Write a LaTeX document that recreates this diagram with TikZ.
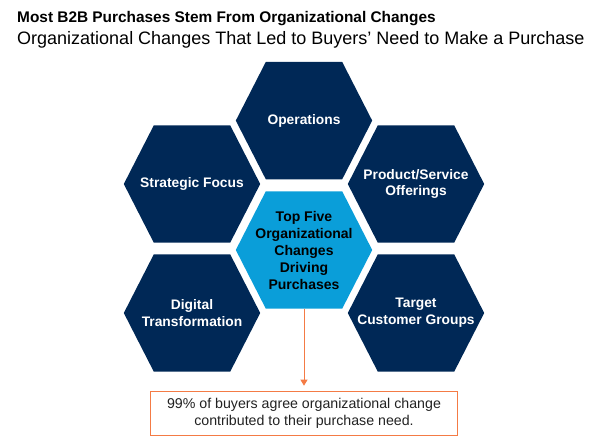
\documentclass[tikz,border=0pt]{standalone}
\usepackage{fontspec}
\setmainfont{Liberation Sans}
\usetikzlibrary{positioning, calc, backgrounds, arrows.meta}
\definecolor{navy}{HTML}{002856}
\definecolor{skyblue}{HTML}{0A9ED9}
\definecolor{rust}{HTML}{F47B45}
\definecolor{ink}{HTML}{222222}
\tikzset{
	hexcell/.style={minimum width=136pt, minimum height=117pt, inner sep=0pt, align=center, text=white, font=\fontsize{13.8}{16.8}\selectfont\bfseries},
	hexcore/.style={hexcell, text=black, font=\fontsize{14}{17}\selectfont\bfseries},
	notebox/.style={draw=rust, line width=1.3pt, minimum width=307pt, minimum height=44pt, align=center, text=ink, font=\fontsize{14.2}{17}\selectfont},
	title/.style={anchor=base west, inner sep=0pt, font=\fontsize{15.4}{18}\selectfont\bfseries},
	subtitle/.style={anchor=base west, inner sep=0pt, font=\fontsize{18}{21}\selectfont}
}
\newcommand{\hexfill}[2]{%
	\fill[#2] (#1.west) -- ($(#1.north west)!0.22!(#1.north east)$) -- ($(#1.north west)!0.78!(#1.north east)$) -- (#1.east) -- ($(#1.south west)!0.78!(#1.south east)$) -- ($(#1.south west)!0.22!(#1.south east)$) -- cycle;%
}
\begin{document}
\begin{tikzpicture}[x=1pt, y=-1pt]
	\useasboundingbox (0,0) rectangle (600,441);
	\node [title] (head) at (17,23) {Most B2B Purchases Stem From Organizational Changes};
	\node [subtitle] (subhead) at (17,45) {Organizational Changes That Led to Buyers’ Need to Make a Purchase};

	\node [hexcore] (core) at (304,250) {Top Five\\Organizational\\Changes\\Driving\\Purchases};
	\node [hexcell, above = 12pt of core] (ops) {Operations};
	\node [hexcell] (strat) at (192,184) {Strategic Focus};
	\node [hexcell] (offer) at (416,184) {Product/Service\\Offerings};
	\node [hexcell] (digit) at (192,313) {Digital\\Transformation};
	\node [hexcell] (target) at (416,313) {Target\\Customer Groups};

	\begin{scope}[on background layer]
		\hexfill{ops}{navy}
		\hexfill{strat}{navy}
		\hexfill{offer}{navy}
		\hexfill{digit}{navy}
		\hexfill{target}{navy}
		\hexfill{core}{skyblue}
	\end{scope}

	\node [notebox, below = 82pt of core] (note) {99\% of buyers agree organizational change\\contributed to their purchase need.};
	\draw [rust, line width=1pt, -{Triangle[width=7pt, length=6pt]}, shorten >=5pt] (core) -- (note);
\end{tikzpicture}
\end{document}
